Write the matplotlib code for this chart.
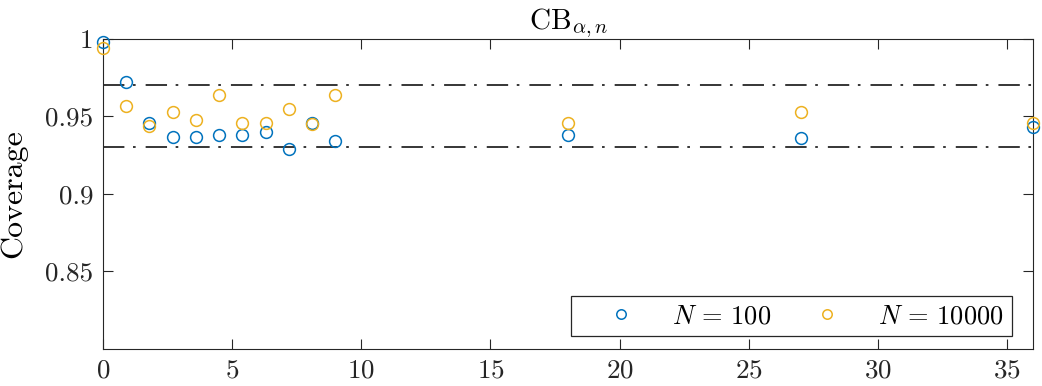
import numpy as np
import matplotlib
matplotlib.use('Agg')
import matplotlib.pyplot as plt

# Daten
x = [0, 0.9, 1.8, 2.7, 3.6, 4.5, 5.4, 6.3, 7.2, 8.1, 9, 18, 27, 36]
cov_100 = [0.998, 0.972, 0.946, 0.937, 0.937, 0.938, 0.938, 0.940, 0.929, 0.946, 0.934, 0.938, 0.936, 0.943]
cov_10000 = [0.994, 0.957, 0.944, 0.953, 0.948, 0.964, 0.946, 0.946, 0.955, 0.945, 0.964, 0.946, 0.953, 0.946]
bounds = [0.97, 0.93]
labels = [r'$N\,=\,100$', r'$N\,=\,10000$']

plt.rcParams['mathtext.fontset'] = 'cm'
plt.rcParams['font.family'] = 'serif'
plt.rcParams['font.serif'] = ['cmr10']
plt.rcParams['axes.formatter.use_mathtext'] = True
plt.rcParams['font.size'] = 19.5

dark = '#262626'
fig = plt.figure(figsize=(10.42, 3.86), dpi=100)
ax = fig.add_axes([0.0988, 0.0959, 0.8926, 0.8031])

lw = 1.1
ls = (0, (15.4 / lw, 6.2 / lw, 1.9 / lw, 7.2 / lw))
for b in bounds:
    ax.axhline(b, color='k', lw=lw, ls=ls, zorder=1)

ax.plot(x, cov_100, 'o', mfc='none', mec='#0072BD', ms=8.5, mew=1.1, label=labels[0], clip_on=False, zorder=3)
ax.plot(x, cov_10000, 'o', mfc='none', mec='#EDB120', ms=8.5, mew=1.1, label=labels[1], clip_on=False, zorder=3)

ax.set_xlim(0, 36)
ax.set_ylim(0.8, 1)
ax.set_xticks([0, 5, 10, 15, 20, 25, 30, 35])
ax.set_yticks([0.85, 0.9, 0.95, 1])
ax.set_yticklabels(['0.85', '0.9', '0.95', '1'])
ax.tick_params(direction='in', top=True, right=True, length=7, width=0.8, colors=dark, pad=7)
for s in ax.spines.values():
    s.set_color(dark)
    s.set_linewidth(0.8)

ax.set_title(r'$\mathrm{CB}_{\alpha,n}$', color='k', pad=7, fontsize=21)
ax.set_ylabel('Coverage', color='k', fontsize=23)
ax.yaxis.set_label_coords(-0.081, 0.5)

leg = ax.legend(loc='lower left', bbox_to_anchor=(0.503, 0.042, 0.474, 0.132), mode='expand',
                ncol=2, borderaxespad=0, fancybox=False, edgecolor=dark, framealpha=1,
                handlelength=3.2, handletextpad=0.35, markerscale=0.8, fontsize=19,
                borderpad=0.3)
leg.get_frame().set_linewidth(0.9)

fig.savefig('out.png', dpi=100)
